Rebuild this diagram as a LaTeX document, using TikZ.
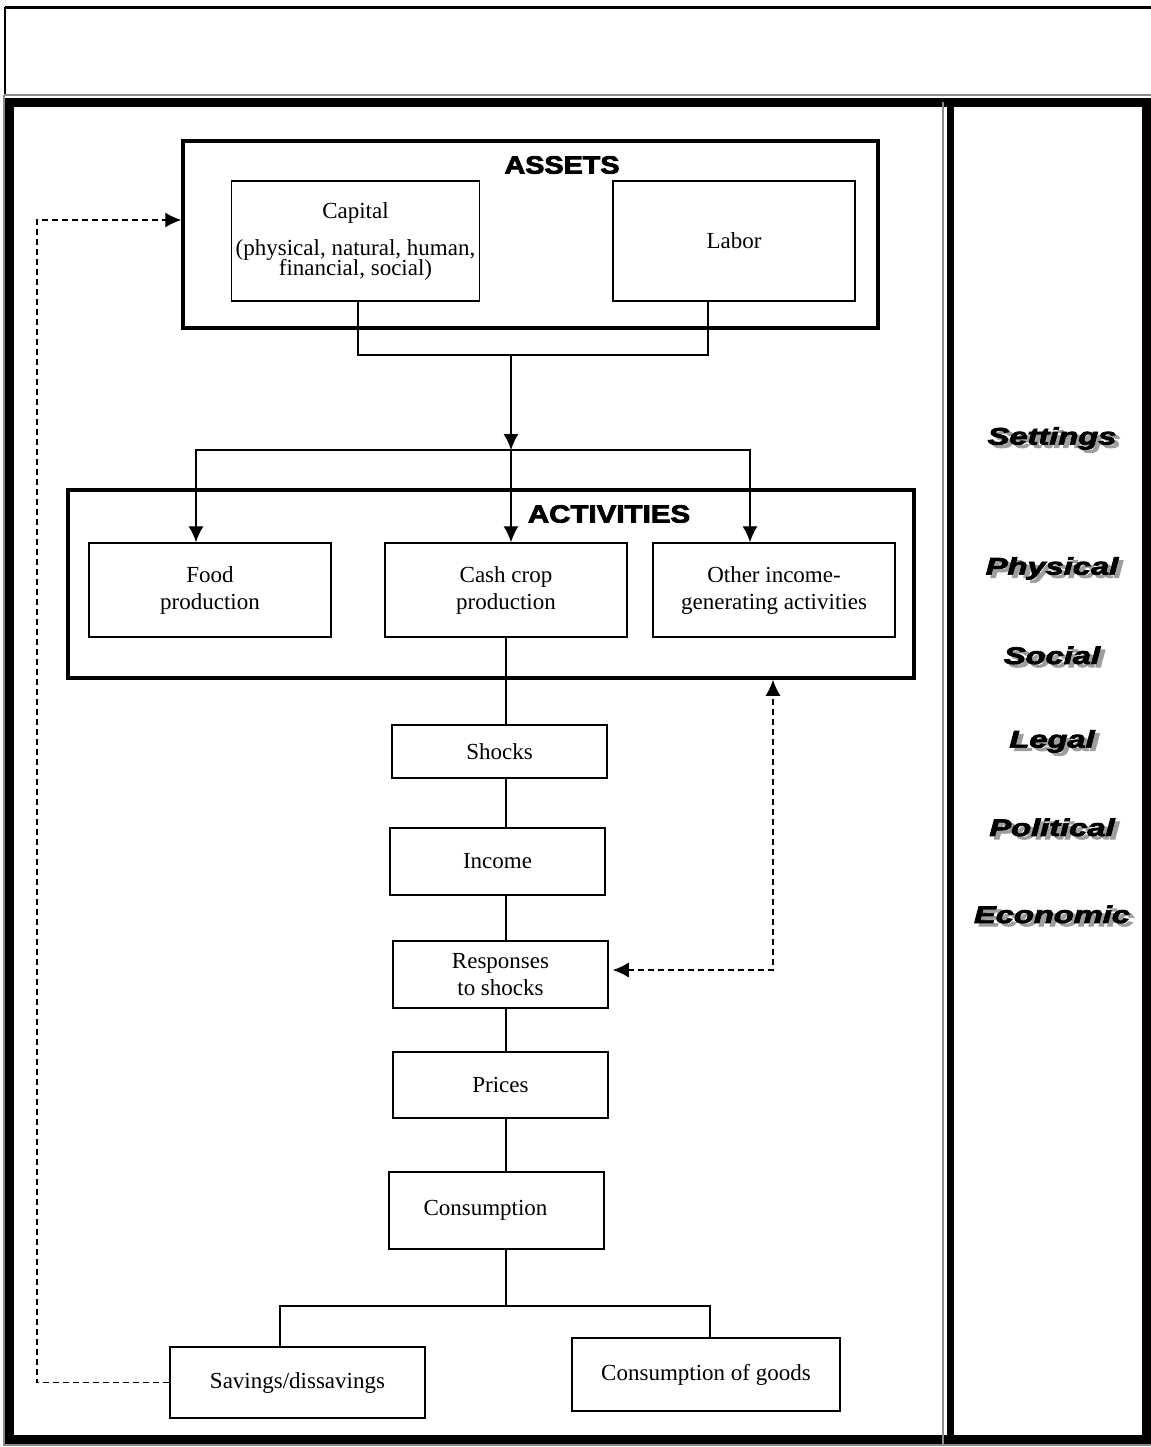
\documentclass[tikz,border=0pt]{standalone}
\usepackage{graphicx}
\usepackage{xcolor}
\usepackage{fontspec}
\setmainfont{Liberation Serif}
\setsansfont{Liberation Sans}
\newfontfamily\heavyfont{Liberation Sans Bold}[FakeBold=3]
\newfontfamily\heavyitfont{Liberation Sans Bold Italic}[FakeBold=3]
\usepackage{tikz}
\usetikzlibrary{arrows.meta,positioning,calc}

% grey drop shadow behind a word
\newcommand{\shadowword}[1]{\makebox[0pt][l]{\hspace{1.6pt}\raisebox{-1.6pt}{\textcolor{black!38}{#1}}}#1}

\begin{document}
\begin{tikzpicture}[x=0.5pt,y=-0.5pt]
  \tikzset{blockbox/.style={draw,line width=0.75pt,align=center,inner sep=2pt,font=\fontsize{11.5}{13.5}\selectfont}}
  \tikzset{groupbox/.style={draw,line width=1.75pt}}
  \tikzset{heading/.style={font=\heavyfont\fontsize{12.5}{14}\selectfont}}
  \tikzset{settinglabel/.style={font=\heavyitfont\fontsize{12}{14}\selectfont}}
  \tikzset{plainline/.style={line width=0.7pt}}
  \tikzset{flowarrow/.style={plainline,-{Latex[length=8pt,width=7.5pt]}}}
  \tikzset{dasharrow/.style={plainline,dash pattern=on 3pt off 2pt,-{Latex[length=8pt,width=7.5pt]}}}
  \tikzset{dashboth/.style={plainline,dash pattern=on 3pt off 2pt,{Latex[length=8pt,width=7.5pt]}-{Latex[length=8pt,width=7.5pt]}}}
  \useasboundingbox (0,0) rectangle (1151,1447);

  % page frame
  \draw[line width=1.5pt] (5,7) -- (1151,7);
  \draw[line width=1pt] (5,7) -- (5,95);
  \draw[black!45,line width=0.6pt] (4,95) -- (1151,95);
  \draw[black!45,line width=0.6pt] (4,95) -- (4,1445) -- (1151,1445);
  \draw[line width=4.5pt] (9.5,102.5) rectangle (1146.5,1439.5);
  \draw[black!45,line width=0.6pt] (943,102) -- (943,1445);
  \draw[line width=3.5pt] (950.5,102) -- (950.5,1440);

  % assets
  \node[groupbox,minimum width=347.5pt,minimum height=93.5pt] (assets) at (530.5,234.5) {};
  \node[heading] (assetslabel) at (562,165) {\scalebox{1.15}[1]{ASSETS}};
  \node[blockbox,minimum width=120.5pt,minimum height=60pt] (capital) at (355.5,241)
    {Capital\\[5pt](physical, natural, human,\\[-3.5pt]financial, social)};
  \node[blockbox,minimum width=121pt,minimum height=60pt] (labor) at (734,241) {Labor};

  % activities
  \node[groupbox,minimum width=423pt,minimum height=94pt] (activities) at (491,584) {};
  \node[heading] (activitieslabel) at (609,514) {\scalebox{1.18}[1]{ACTIVITIES}};
  \node[blockbox,minimum width=121pt,minimum height=47pt] (food) at (210,590) {Food\\production};
  \node[blockbox,minimum width=121pt,minimum height=47pt] (cash) at (506,590) {Cash crop\\production};
  \node[blockbox,minimum width=121pt,minimum height=47pt] (other) at (774,590) {Other income-\\generating activities};

  % chain
  \node[blockbox,minimum width=107.5pt,minimum height=26.5pt] (shocks) at (499.5,751.5) {Shocks};
  \node[blockbox,minimum width=107.5pt,minimum height=33.5pt] (income) at (497.5,861.5) {Income};
  \node[blockbox,minimum width=107.5pt,minimum height=33.5pt] (responses) at (500.5,974.5) {Responses\\to shocks};
  \node[blockbox,minimum width=107.5pt,minimum height=33pt] (prices) at (500.5,1085) {Prices};
  \node[blockbox,minimum width=107.5pt,minimum height=38.5pt] (consumption) at (496.5,1210.5) {Consumption\hspace{11pt}};
  \node[blockbox,minimum width=127.5pt,minimum height=35.5pt] (savings) at (297.5,1382.5) {Savings/dissavings};
  \node[blockbox,minimum width=134pt,minimum height=36.5pt] (goods) at (706,1374.5) {Consumption of goods};

  \coordinate (split) at (511,355);
  \coordinate (fork) at (511,450);
  \coordinate (spine) at (506,0);
  \coordinate (branch) at (506,1306);
  \coordinate (loopleft) at (37,220);
  \coordinate (loopright) at (773,970);

  % assets to activities
  \draw[plainline] ([xshift=1.25pt]capital.south) |- (split);
  \draw[plainline] ([xshift=-13pt]labor.south) |- (split);
  \draw[flowarrow] (split) -- (fork);
  \draw[flowarrow] (fork) -| ([xshift=-7pt]food.north);
  \draw[flowarrow] (fork) -| ([xshift=-12pt]other.north);
  \draw[flowarrow] (fork) -- ([xshift=2.5pt]cash.north);

  % down the chain
  \draw[plainline] (cash.south -| spine) -- (shocks.north -| spine);
  \draw[plainline] (shocks.south -| spine) -- (income.north -| spine);
  \draw[plainline] (income.south -| spine) -- (responses.north -| spine);
  \draw[plainline] (responses.south -| spine) -- (prices.north -| spine);
  \draw[plainline] (prices.south -| spine) -- (consumption.north -| spine);
  \draw[plainline] (consumption.south -| spine) -- (branch);
  \draw[plainline] ([xshift=-8.75pt]savings.north) |- (branch) -| ([xshift=2pt]goods.north);

  % feedback
  \draw[dasharrow] (savings.west) -| (loopleft) -- (loopleft -| assets.west);
  \draw[dashboth,shorten <=2pt] (responses.east |- loopright) -- (loopright) -- (loopright |- activities.south);

  % settings
  \foreach \name/\word/\ypos in {settings/Settings/440,physical/Physical/570,social/Social/657,
      legal/Legal/743,political/Political/829,economic/Economic/916}
    \node[settinglabel] (\name) at (1052,\ypos) {\scalebox{1.36}[1]{\shadowword{\word}}};
\end{tikzpicture}
\end{document}
